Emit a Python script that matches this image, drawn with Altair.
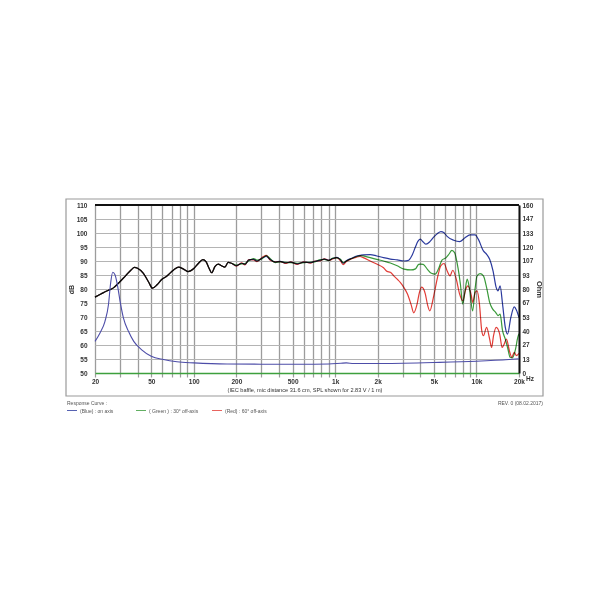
import altair as alt
import pandas as pd

# ---------------- data ----------------
# part shared by all three SPL curves (20 Hz - 185 Hz)
common_freq = [20, 22, 24, 27, 30, 33, 36, 38, 40, 44, 48, 51, 55, 59, 64, 72, 78, 84, 91,
               100, 108, 116, 122, 128, 134, 141, 149, 157, 166, 175, 185]
common_db = [77.1, 78.2, 79.2, 80.4, 82.6, 84.8, 86.8, 87.7, 87.4, 85.6, 82.4, 80.3, 81.5, 83.3,
             84.5, 86.8, 87.8, 87.2, 86.2, 87.3, 89.2, 90.5, 89.8, 87.5, 85.8, 88.0, 88.9, 88.3,
             87.8, 89.5, 89.2]

mid_freq = [200, 218, 230, 245, 265, 280, 303, 326, 348, 378, 410, 445, 483, 540, 603, 670,
            720, 775, 840, 900, 960, 1030, 1090, 1140, 1200, 1310, 1420, 1500]
on_mid_db = [88.3, 89.2, 88.8, 90.4, 90.6, 90.0, 91.0, 91.6, 90.5, 89.6, 89.9, 89.3, 89.6, 89.0,
             89.6, 89.4, 89.9, 90.2, 90.7, 90.3, 90.9, 91.3, 90.4, 89.2, 90.1, 91.0, 91.8, 92.0]
g30_mid_db = [88.5, 89.0, 89.1, 90.1, 90.9, 90.3, 90.7, 91.9, 90.8, 89.4, 89.7, 89.5, 89.4, 89.2,
              89.4, 89.6, 89.7, 90.4, 90.6, 90.1, 91.0, 91.1, 90.6, 89.4, 90.0, 90.9, 91.6, 91.9]
r60_mid_db = [88.2, 89.3, 88.6, 90.5, 90.4, 89.8, 91.2, 92.0, 90.3, 89.7, 89.8, 89.1, 89.7, 88.8,
              89.7, 89.2, 90.0, 90.0, 90.8, 90.2, 90.7, 91.2, 90.1, 88.7, 89.8, 90.8, 91.4, 91.6]

on_tail_freq = [1580, 1770, 1970, 2200, 2460, 2750, 3070, 3300, 3500, 3700, 3850, 4000, 4200,
                4400, 4700, 5000, 5300, 5600, 5900, 6200, 6900, 7600, 8300, 9000, 9800, 10300,
                11200, 11800, 12400, 13100, 13800, 14200, 14700, 15300, 16000, 16600, 17500,
                18500, 19200, 20000]
on_tail_db = [92.2, 92.3, 91.8, 91.2, 90.7, 90.4, 90.0, 90.2, 92.0, 95.0, 97.0, 97.8, 96.8, 96.0,
              97.0, 98.6, 99.8, 100.5, 100.1, 98.8, 97.4, 96.9, 98.3, 99.3, 99.3, 97.8, 93.6, 92.4,
              90.6, 86.5, 80.5, 79.3, 81.1, 74.6, 66.3, 63.9, 69.8, 73.6, 72.4, 69.8]

g30_tail_freq = [1580, 1770, 1970, 2200, 2460, 2750, 3070, 3440, 3700, 3900, 4000, 4200, 4500,
                 4800, 5100, 5400, 5700, 6100, 6400, 6700, 7000, 7400, 7700, 8000, 8300, 8600,
                 8900, 9400, 9800, 10100, 10600, 11200, 11800, 12400, 13000, 13700, 14200, 14700,
                 15300, 16000, 16600, 17300, 18000, 18900, 19600, 20000]
g30_tail_db = [91.8, 91.2, 90.6, 90.0, 89.3, 88.3, 87.1, 86.8, 87.2, 88.8, 88.9, 88.8, 87.0, 85.6,
               85.3, 87.3, 90.3, 91.2, 92.5, 93.8, 93.0, 87.6, 81.7, 74.6, 79.3, 83.5, 80.5, 72.2,
               80.5, 84.7, 85.5, 84.7, 80.5, 75.2, 72.9, 71.6, 70.5, 71.0, 65.1, 62.1, 59.1, 55.6,
               55.4, 58.5, 62.7, 64.0]

r60_tail_freq = [1580, 1770, 1970, 2200, 2330, 2460, 2600, 2750, 2900, 3070, 3250, 3440, 3600,
                 3800, 3950, 4100, 4350, 4500, 4680, 4960, 5300, 5600, 5900, 6200, 6500, 6800,
                 7200, 7600, 8000, 8400, 8700, 9200, 9400, 9800, 10100, 10500, 10900, 11200,
                 11800, 12400, 12800, 13200, 13800, 14600, 15200, 15700, 16300, 17100, 17800,
                 18500, 19200, 20000]
r60_tail_db = [91.2, 90.0, 88.9, 87.6, 86.3, 86.0, 84.7, 83.5, 82.3, 80.5, 78.2, 74.6, 71.5, 74.6,
               78.8, 80.7, 78.2, 74.5, 72.2, 77.0, 84.1, 88.3, 89.1, 86.5, 84.7, 86.7, 83.5, 78.2,
               75.8, 79.9, 81.1, 77.6, 75.2, 78.8, 79.3, 74.6, 65.1, 63.3, 66.3, 62.1, 59.1, 63.3,
               66.3, 63.9, 59.1, 60.3, 62.1, 58.0, 55.6, 57.4, 56.2, 57.0]

imp_freq = [20, 21.7, 23.5, 24.9, 25.8, 26.7, 27.7, 28.8, 30.1, 31.8, 34.5, 37.6, 42.8, 50, 61,
            76, 100, 172, 300, 560, 900, 1100, 1200, 1350, 2000, 5000, 10000, 17000, 20000]
imp_ohm = [30.1, 38.1, 49.0, 65.0, 85.6, 96.0, 93.6, 84.0, 68.3, 52.3, 39.7, 30.1, 22.1, 16.0,
           12.8, 10.7, 9.6, 8.5, 8.4, 8.3, 8.6, 9.3, 9.6, 9.0, 9.0, 10.0, 11.2, 12.8, 13.5]

series_names = ["on axis", "30° off-axis", "60° off-axis"]
series_colors = ["#2b3a9e", "#3a9a3a", "#e23c36"]
imp_color = "#4d4da8"

grid_freqs = [20, 30, 40, 50, 60, 70, 80, 90, 100, 200, 300, 400, 500, 600, 700, 800, 900,
              1000, 2000, 3000, 4000, 5000, 6000, 7000, 8000, 9000, 10000, 20000]
label_freqs = [20, 50, 100, 200, 500, 1000, 2000, 5000, 10000, 20000]
label_texts = ["20", "50", "100", "200", "500", "1k", "2k", "5k", "10k", "20k"]
db_ticks = [50, 55, 60, 65, 70, 75, 80, 85, 90, 95, 100, 105, 110]
ohm_ticks = [0, 13.333, 26.667, 40, 53.333, 66.667, 80, 93.333, 106.667, 120, 133.333, 146.667, 160]

caption = "(IEC baffle, mic distance 31.6 cm, SPL shown for 2.83 V / 1 m)"
legend_title = "Response Curve :"
legend_texts = ["(Blue) : on axis", "( Green ) : 30° off-axis", "(Red) : 60° off-axis"]
rev_text = "REV. 0 (08.02.2017)"

# ---------------- build tables ----------------
rows = []
for name, mid, tf, td in [
    (series_names[0], on_mid_db, on_tail_freq, on_tail_db),
    (series_names[1], g30_mid_db, g30_tail_freq, g30_tail_db),
    (series_names[2], r60_mid_db, r60_tail_freq, r60_tail_db),
]:
    fs = common_freq + mid_freq + tf
    ds = common_db + mid + td
    for f, d in zip(fs, ds):
        rows.append({"f": f, "db": d, "series": name})
spl_df = pd.DataFrame(rows)
imp_df = pd.DataFrame({"f": imp_freq, "ohm": imp_ohm})

FONT = "Liberation Sans"
W, H = 424, 168

label_expr = " : ".join(
    f"datum.value == {f} ? '{t}'" for f, t in zip(label_freqs, label_texts)
) + " : ''"

x_enc = alt.X(
    "f:Q",
    scale=alt.Scale(type="log", domain=[20, 20000], nice=False),
    axis=alt.Axis(
        values=grid_freqs, labelExpr=label_expr, grid=True, gridColor="#9c9c9c",
        gridWidth=1.3, tickColor="#9c9c9c", tickWidth=1.2, tickSize=4,
        domainColor="#3da03d", domainWidth=1.3, labelFont=FONT, labelFontSize=6.5,
        labelFontWeight="bold", labelColor="#333", labelPadding=1, labelOverlap=False,
        labelFlush=False, labelBound=False, title=None,
    ),
)

spl = alt.Chart(spl_df).mark_line(strokeWidth=1.2, interpolate="monotone", blend="multiply").encode(
    x=x_enc,
    y=alt.Y(
        "db:Q",
        scale=alt.Scale(domain=[50, 110], nice=False, zero=False),
        axis=alt.Axis(
            values=db_ticks, grid=True, gridColor="#b4b4b4", gridWidth=1, ticks=False,
            domain=False, labelFont=FONT, labelFontSize=6.5, labelFontWeight="bold",
            labelColor="#333", labelPadding=8, title="dB", titleFont=FONT, titleFontSize=7,
            titleFontWeight="bold", titleColor="#333", titlePadding=2,
        ),
    ),
    color=alt.Color("series:N", scale=alt.Scale(domain=series_names, range=series_colors), legend=None),
    detail="series:N",
)

imp = alt.Chart(imp_df).mark_line(strokeWidth=1.1, interpolate="monotone", color=imp_color).encode(
    x=x_enc,
    y=alt.Y(
        "ohm:Q",
        scale=alt.Scale(domain=[0, 160], nice=False, zero=False),
        axis=alt.Axis(
            orient="right", values=ohm_ticks, labelExpr="format(datum.value, '.0f')",
            grid=False, ticks=False, domainColor="#111", domainWidth=2, labelFont=FONT,
            labelFontSize=6.5, labelFontWeight="bold", labelColor="#333", labelPadding=3,
            title="Ohm", titleFont=FONT, titleFontSize=7.5, titleFontWeight="bold",
            titleColor="#333", titlePadding=2,
        ),
    ),
)

one = pd.DataFrame({"k": [0]})

top_rule = alt.Chart(one).mark_rule(color="#111", strokeWidth=2).encode(
    x=alt.value(0), x2=alt.value(W), y=alt.value(0))

frame = alt.Chart(one).mark_rect(fill=None, stroke="#9a9a9a", strokeWidth=1.2).encode(
    x=alt.value(-29), x2=alt.value(448), y=alt.value(-6), y2=alt.value(191))

hz = alt.Chart(one).mark_text(text="Hz", font=FONT, fontSize=6.5, fontWeight="bold",
                               color="#333", align="left", baseline="middle").encode(
    x=alt.value(431), y=alt.value(H + 6))

cap = alt.Chart(one).mark_text(text=caption, font=FONT, fontSize=5.6, color="#333",
                                align="center", baseline="middle").encode(
    x=alt.value(210), y=alt.value(185))

resp = alt.Chart(one).mark_text(text=legend_title, font=FONT, fontSize=5, color="#555",
                                 align="left", baseline="middle").encode(
    x=alt.value(-28), y=alt.value(198))

rev = alt.Chart(one).mark_text(text=rev_text, font=FONT, fontSize=5, color="#555",
                                align="right", baseline="middle").encode(
    x=alt.value(448), y=alt.value(198))

leg_layers = []
for x0, txt, col in zip([-28, 41, 117], legend_texts, series_colors):
    leg_layers.append(alt.Chart(one).mark_rule(color=col, strokeWidth=0.8).encode(
        x=alt.value(x0), x2=alt.value(x0 + 10), y=alt.value(205.5)))
    leg_layers.append(alt.Chart(one).mark_text(text=txt, font=FONT, fontSize=5, color="#555",
                                               align="left", baseline="middle").encode(
        x=alt.value(x0 + 13), y=alt.value(205.5)))

chart = alt.layer(spl, imp, top_rule, frame, hz, cap, resp, rev, *leg_layers).resolve_scale(
    y="independent"
).properties(
    width=W, height=H,
    autosize=alt.AutoSizeParams(type="none"),
    padding={"left": 87, "top": 197, "right": 83, "bottom": 220},
).configure_view(stroke=None).configure(background="white")

chart.save("out.html", embed_options={"renderer": "svg", "actions": False})
